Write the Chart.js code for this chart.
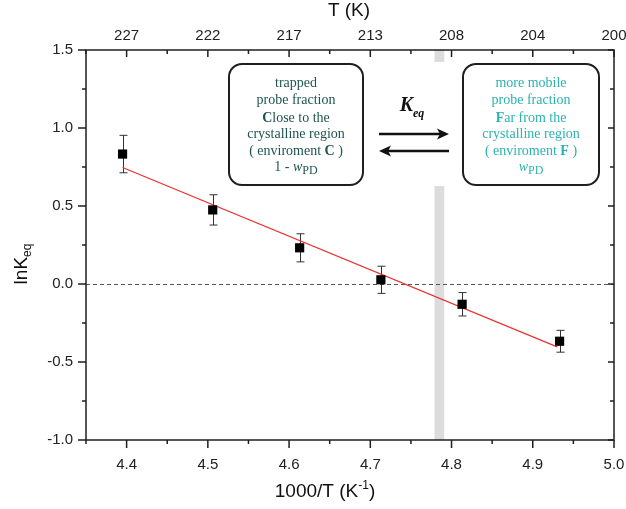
<!DOCTYPE html>
<html>
<head>
<meta charset="utf-8">
<script src="https://cdn.jsdelivr.net/npm/chart.js@4.4.1/dist/chart.umd.min.js"></script>
<style>
html, body { margin: 0; padding: 0; background: #fff; }
#wrap { width: 626px; height: 509px; }
</style>
</head>
<body>
<div id="wrap"><canvas id="chart" width="626" height="509"></canvas></div>
<script>
// 1000/T values and ln K_eq with error bars
const invT = [4.395, 4.506, 4.613, 4.713, 4.813, 4.933];
const lnK = [0.833, 0.475, 0.232, 0.027, -0.13, -0.367];
const lnKErr = [0.12, 0.097, 0.09, 0.087, 0.075, 0.07];

// linear fit (end points)
const fitX = [4.395, 4.93];
const fitY = [0.747, -0.403];

// axes
const xTicks = [4.4, 4.5, 4.6, 4.7, 4.8, 4.9, 5.0];
const xMinor = [4.35, 4.45, 4.55, 4.65, 4.75, 4.85, 4.95];
const tempLabels = ['227', '222', '217', '213', '208', '204', '200'];
const yTicks = [-1.0, -0.5, 0.0, 0.5, 1.0, 1.5];
const yMinor = [-0.75, -0.25, 0.25, 0.75, 1.25];

// grey transition band (1000/T)
const band = [4.779, 4.791];

(() => {
    const canvas = document.getElementById('chart');
    const sans = '"Liberation Sans", Arial, sans-serif';
    const serif = '"Liberation Serif", "Times New Roman", serif';
    const dark = '#1f1f1f';

    function drawRich(ctx, parts, cx, y) {
        let total = 0;
        parts.forEach((p) => {
            ctx.font = p.font;
            total += ctx.measureText(p.t).width;
        });
        let x = cx - total / 2;
        ctx.textAlign = 'left';
        ctx.textBaseline = 'middle';
        parts.forEach((p) => {
            ctx.font = p.font;
            ctx.fillText(p.t, x, y + (p.dy || 0));
            x += ctx.measureText(p.t).width;
        });
    }

    function arrow(ctx, x1, x2, y) {
        const dir = Math.sign(x2 - x1);
        ctx.beginPath();
        ctx.moveTo(x1, y);
        ctx.lineTo(x2 - dir * 6, y);
        ctx.lineWidth = 2.5;
        ctx.stroke();
        ctx.beginPath();
        ctx.moveTo(x2, y);
        ctx.lineTo(x2 - dir * 12, y - 5.5);
        ctx.lineTo(x2 - dir * 9, y);
        ctx.lineTo(x2 - dir * 12, y + 5.5);
        ctx.closePath();
        ctx.fill();
    }

    function box(ctx, x, y, w, h, color, lines) {
        ctx.save();
        ctx.fillStyle = '#fff';
        ctx.strokeStyle = dark;
        ctx.lineWidth = 2;
        ctx.beginPath();
        ctx.roundRect(x, y, w, h, 13);
        ctx.fill();
        ctx.stroke();
        ctx.fillStyle = color;
        const cx = x + w / 2;
        const ys = [83, 100, 118, 134, 151, 167];
        lines.forEach((parts, i) => drawRich(ctx, parts, cx, ys[i]));
        ctx.restore();
    }

    const reg = `14px ${serif}`;
    const bold = `bold 14px ${serif}`;
    const ital = `italic 14px ${serif}`;
    const small = `12px ${serif}`;

    const decor = {
        id: 'decor',
        beforeDatasetsDraw(chart) {
            const { ctx, chartArea: a, scales } = chart;
            const x = scales.x;
            const y = scales.y;
            ctx.save();
            // grey band, interrupted around the arrows
            ctx.fillStyle = '#dcdcdc';
            const bx1 = x.getPixelForValue(band[0]);
            const bx2 = x.getPixelForValue(band[1]);
            ctx.fillRect(bx1, a.top, bx2 - bx1, 62 - a.top);
            ctx.fillRect(bx1, 186, bx2 - bx1, a.bottom - 186);
            // zero line
            ctx.strokeStyle = '#555';
            ctx.lineWidth = 1;
            ctx.setLineDash([4, 3]);
            const y0 = Math.round(y.getPixelForValue(0)) + 0.5;
            ctx.beginPath();
            ctx.moveTo(a.left, y0);
            ctx.lineTo(a.right, y0);
            ctx.stroke();
            ctx.setLineDash([]);
            // error bars
            ctx.strokeStyle = '#333';
            invT.forEach((v, i) => {
                const px = Math.round(x.getPixelForValue(v)) + 0.5;
                const top = y.getPixelForValue(lnK[i] + lnKErr[i]);
                const bot = y.getPixelForValue(lnK[i] - lnKErr[i]);
                ctx.beginPath();
                ctx.moveTo(px, top);
                ctx.lineTo(px, bot);
                ctx.moveTo(px - 4, top);
                ctx.lineTo(px + 4, top);
                ctx.moveTo(px - 4, bot);
                ctx.lineTo(px + 4, bot);
                ctx.stroke();
            });
            ctx.restore();
        },
        afterDraw(chart) {
            const { ctx, chartArea: a, scales } = chart;
            const x = scales.x;
            const y = scales.y;
            ctx.save();
            ctx.strokeStyle = dark;
            ctx.fillStyle = dark;
            ctx.lineWidth = 1.5;
            ctx.strokeRect(a.left, a.top, a.right - a.left, a.bottom - a.top);
            ctx.beginPath();
            xTicks.concat(xMinor).forEach((v) => {
                const px = x.getPixelForValue(v);
                const major = xTicks.includes(v);
                ctx.moveTo(px, a.bottom);
                ctx.lineTo(px, a.bottom + (major ? 8 : 4));
                ctx.moveTo(px, a.top);
                ctx.lineTo(px, a.top + (major ? 7 : 4));
            });
            yTicks.concat(yMinor).forEach((v) => {
                const py = y.getPixelForValue(v);
                const major = yTicks.includes(v);
                ctx.moveTo(a.left, py);
                ctx.lineTo(a.left - (major ? 8 : 4), py);
                ctx.moveTo(a.right, py);
                ctx.lineTo(a.right - (major ? 6 : 4), py);
            });
            ctx.stroke();

            // axis titles
            ctx.fillStyle = '#111';
            drawRich(ctx, [{ t: 'T (K)', font: `19px ${sans}` }], 349, 11);
            drawRich(ctx, [
                { t: '1000/T (K', font: `19px ${sans}` },
                { t: '-1', font: `12px ${sans}`, dy: -6 },
                { t: ')', font: `19px ${sans}` },
            ], 325, 492);
            ctx.save();
            ctx.translate(22, 264);
            ctx.rotate(-Math.PI / 2);
            drawRich(ctx, [
                { t: 'lnK', font: `19px ${sans}` },
                { t: 'eq', font: `12px ${sans}`, dy: 6 },
            ], 0, 0);
            ctx.restore();

            // scheme
            box(ctx, 229, 64, 134, 121, '#1d5450', [
                [{ t: 'trapped', font: reg }],
                [{ t: 'probe fraction', font: reg }],
                [{ t: 'C', font: bold }, { t: 'lose to the', font: reg }],
                [{ t: 'crystalline region', font: reg }],
                [{ t: '( enviroment ', font: reg }, { t: 'C', font: bold }, { t: ' )', font: reg }],
                [{ t: '1 - ', font: reg }, { t: 'w', font: ital }, { t: 'PD', font: small, dy: 4 }],
            ]);
            box(ctx, 463, 64, 136, 121, '#2bb3ad', [
                [{ t: 'more mobile', font: reg }],
                [{ t: 'probe fraction', font: reg }],
                [{ t: 'F', font: bold }, { t: 'ar from the', font: reg }],
                [{ t: 'crystalline region', font: reg }],
                [{ t: '( enviroment ', font: reg }, { t: 'F', font: bold }, { t: ' )', font: reg }],
                [{ t: 'w', font: ital }, { t: 'PD', font: small, dy: 4 }],
            ]);
            ctx.fillStyle = '#111';
            ctx.strokeStyle = '#111';
            arrow(ctx, 379, 449, 134);
            arrow(ctx, 449, 379, 151);
            drawRich(ctx, [
                { t: 'K', font: `bold italic 20px ${serif}` },
                { t: 'eq', font: `bold italic 12px ${serif}`, dy: 8 },
            ], 412, 106);
            ctx.restore();
        },
    };

    const tickFont = { family: sans, size: 15 };
    const noSidePad = (s) => { s.paddingLeft = 0; s.paddingRight = 0; };

    new Chart(canvas.getContext('2d'), {
        data: {
            datasets: [
                {
                    type: 'scatter',
                    data: invT.map((v, i) => ({ x: v, y: lnK[i] })),
                    pointStyle: 'rect',
                    pointRadius: 6.5,
                    backgroundColor: '#000',
                    borderColor: '#000',
                    borderWidth: 0,
                },
                {
                    type: 'line',
                    data: fitX.map((v, i) => ({ x: v, y: fitY[i] })),
                    borderColor: '#e8332f',
                    borderWidth: 1.2,
                    pointRadius: 0,
                    fill: false,
                },
            ],
        },
        options: {
            responsive: false,
            animation: false,
            devicePixelRatio: 1,
            layout: { padding: { right: 12, left: 0, top: 0, bottom: 0 } },
            plugins: {
                legend: { display: false },
                tooltip: { enabled: false },
            },
            scales: {
                x: {
                    type: 'linear',
                    position: 'bottom',
                    min: 4.35,
                    max: 5.0,
                    afterBuildTicks: (s) => { s.ticks = xTicks.map((v) => ({ value: v })); },
                    afterFit: (s) => { s.height = 69; noSidePad(s); },
                    grid: { display: false, drawTicks: false },
                    border: { display: false },
                    ticks: { font: tickFont, color: '#222', padding: 16, maxRotation: 0, callback: (v) => v.toFixed(1) },
                },
                x2: {
                    type: 'linear',
                    position: 'top',
                    min: 4.35,
                    max: 5.0,
                    afterBuildTicks: (s) => { s.ticks = xTicks.map((v) => ({ value: v })); },
                    afterFit: (s) => { s.height = 50; noSidePad(s); },
                    grid: { display: false, drawTicks: false },
                    border: { display: false },
                    ticks: { font: tickFont, color: '#222', padding: 5, maxRotation: 0, callback: (v, i) => tempLabels[i] },
                },
                y: {
                    type: 'linear',
                    min: -1.0,
                    max: 1.5,
                    afterBuildTicks: (s) => { s.ticks = yTicks.map((v) => ({ value: v })); },
                    afterFit: (s) => { s.width = 86; s.paddingTop = 0; s.paddingBottom = 0; },
                    grid: { display: false, drawTicks: false },
                    border: { display: false },
                    ticks: { font: tickFont, color: '#222', padding: 13, callback: (v) => v.toFixed(1) },
                },
            },
        },
        plugins: [decor],
    });
})();
</script>
</body>
</html>
